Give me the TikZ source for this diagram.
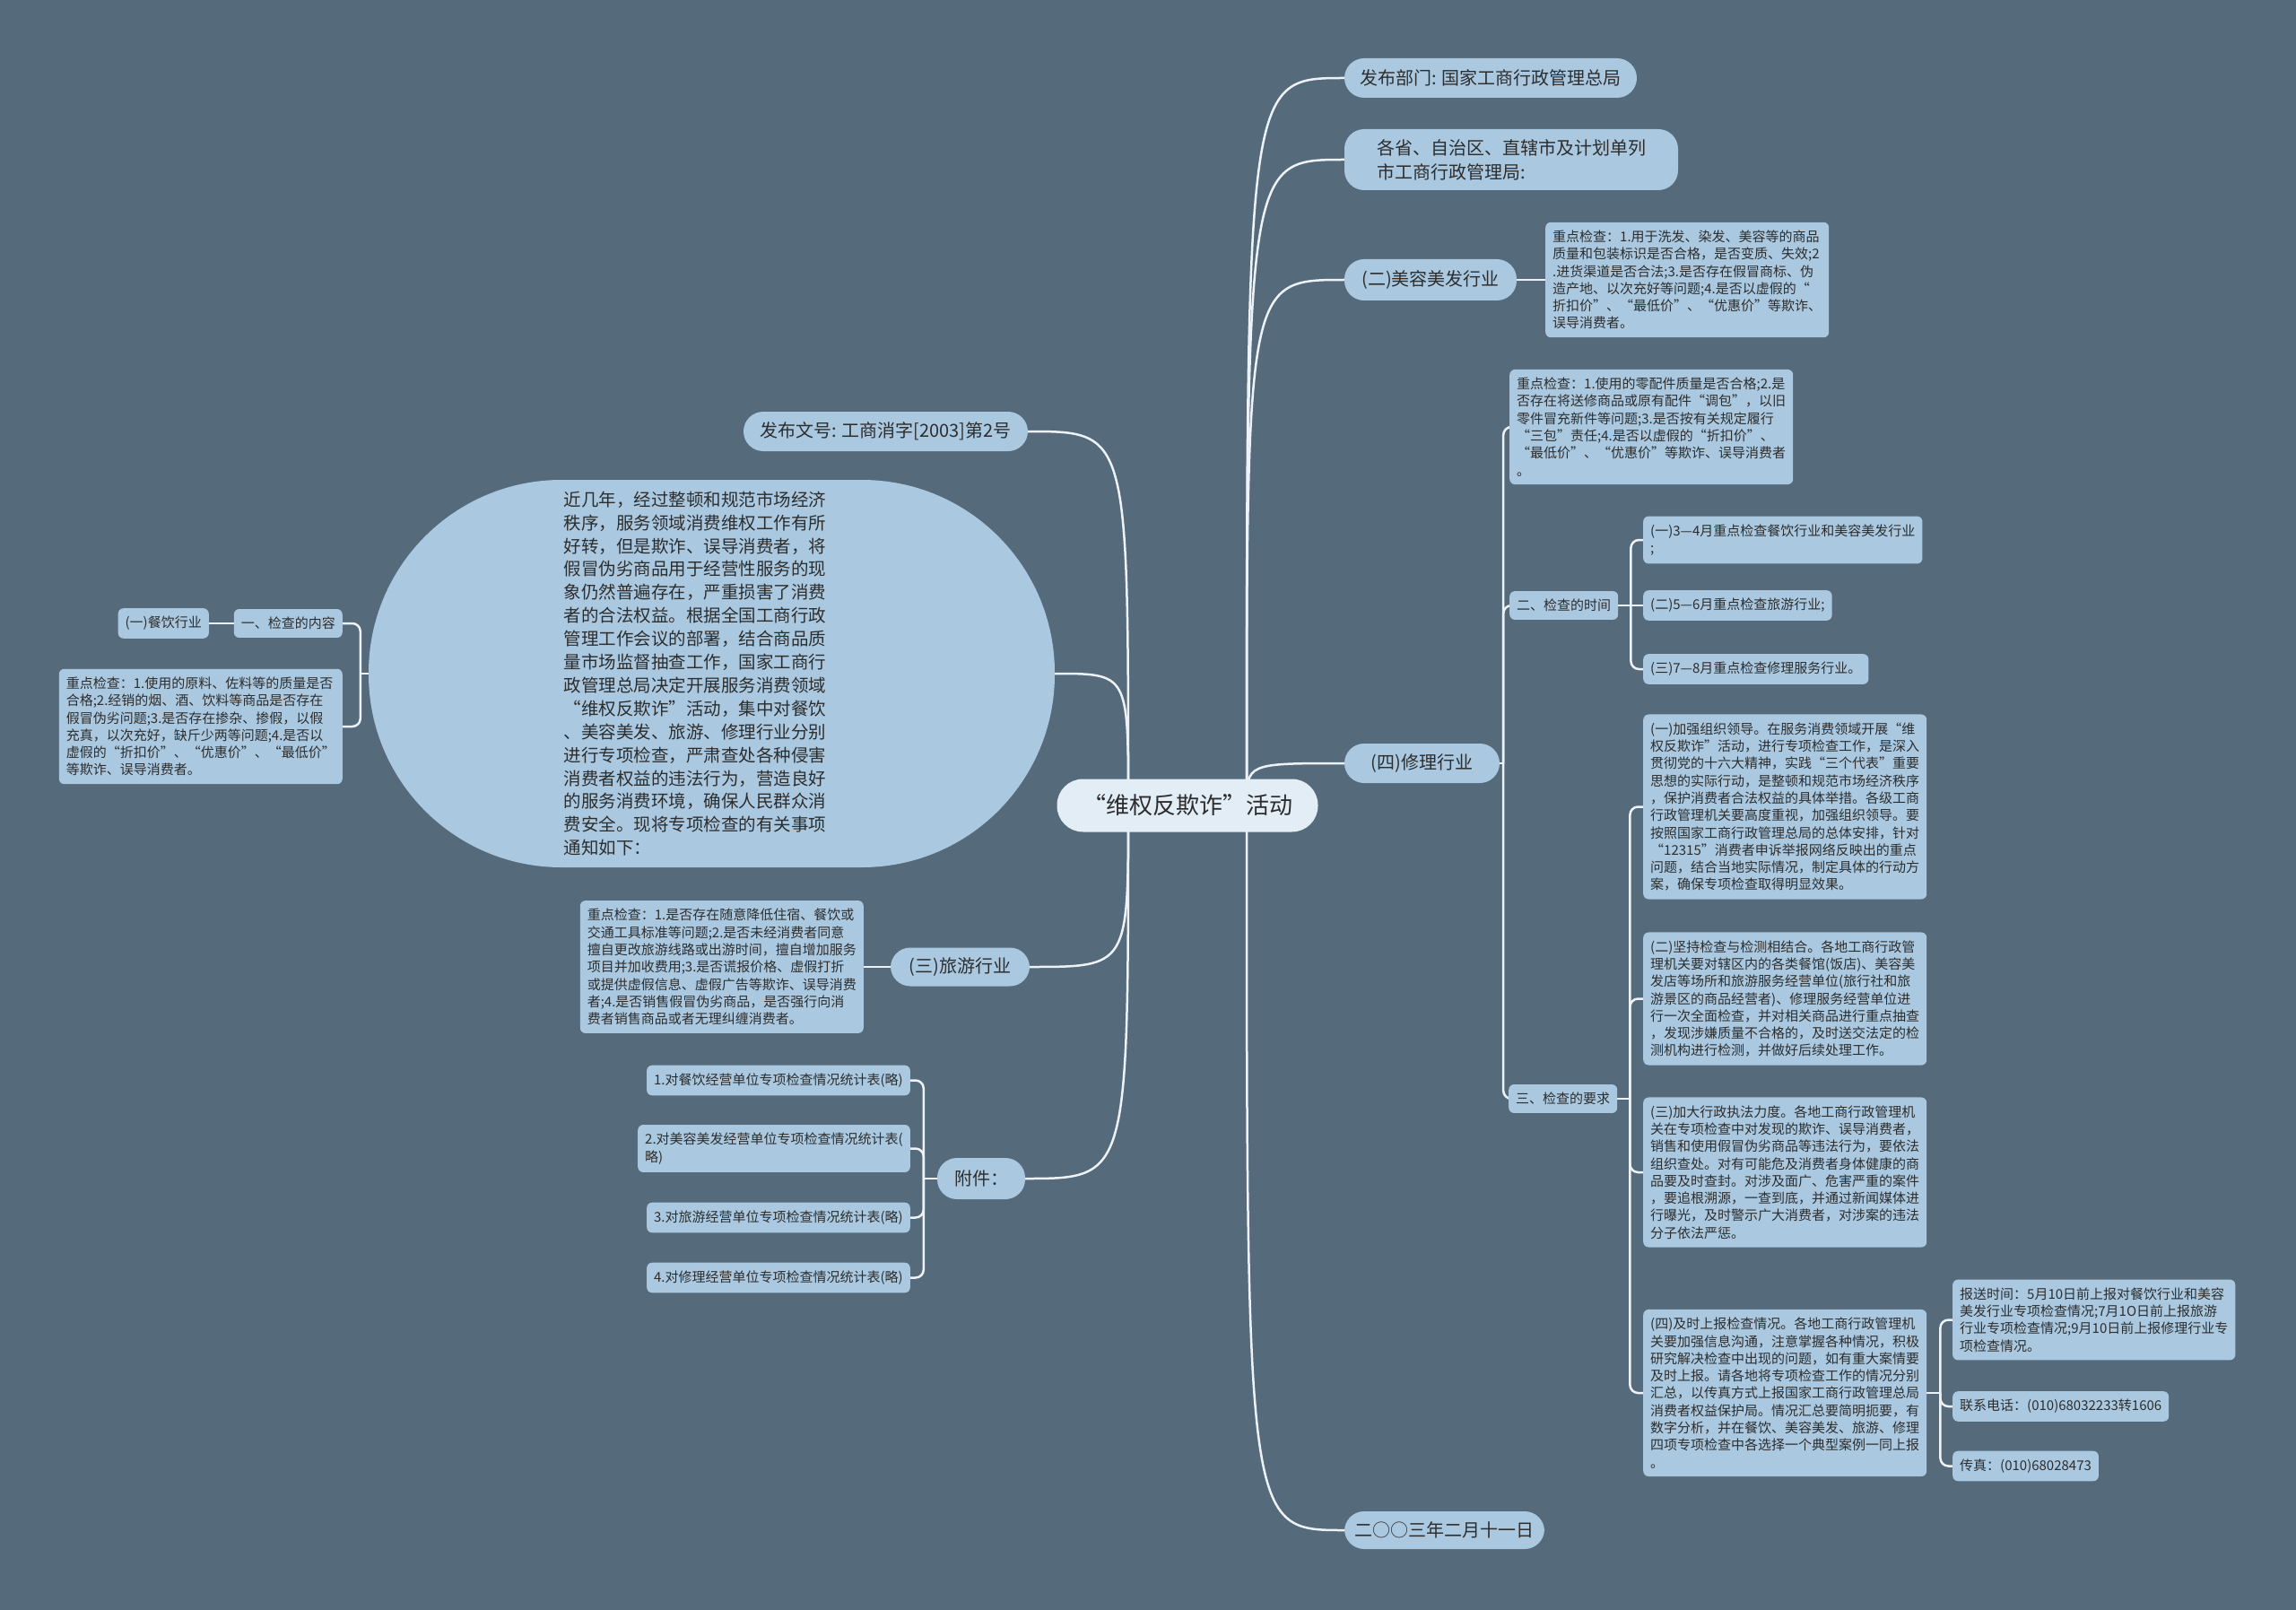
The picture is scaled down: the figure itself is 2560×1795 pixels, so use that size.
\documentclass[tikz,border=0pt]{standalone}
\usepackage{fontspec}
\setmainfont{Noto Sans CJK SC}

\definecolor{bgc}{RGB}{85,106,122}
\definecolor{boxc}{RGB}{170,201,224}
\definecolor{mainc}{RGB}{226,237,246}
\definecolor{linec}{RGB}{236,242,247}
\definecolor{txtc}{RGB}{45,45,45}

\pgfdeclarelayer{back}
\pgfsetlayers{back,main}

\tikzset{
  pill/.style={fill=boxc, text=txtc, rounded corners=22pt, inner sep=0pt,
    font=\fontsize{20}{27}\selectfont, align=center},
  leaf/.style={fill=boxc, text=txtc, rounded corners=6pt, inner xsep=8pt,
    inner ysep=9pt, font=\fontsize{15}{19.3}\selectfont, align=left},
  link/.style={draw=linec, line width=2.5pt,
    to path={.. controls (\tikztostart |- \tikztotarget) .. (\tikztotarget)}},
  fork/.style={draw=linec, line width=2.5pt, rounded corners=9pt},
}

\begin{document}
\begin{tikzpicture}[x=1pt,y=-1pt]

% centre topic
\node[pill, fill=mainc, minimum width=291, minimum height=59, rounded corners=29pt,
  font=\fontsize{26}{30}\selectfont] (main) at (1324,898) {“维权反欺诈”活动};

% right side
\node[pill, minimum width=326, minimum height=44] (bm) at (1662,87)
  {发布部门: 国家工商行政管理总局};
\node[pill, minimum width=372, minimum height=68, align=left] (gs) at (1685,178)
  {各省、自治区、直辖市及计划单列\\市工商行政管理局:};

\node[pill, minimum width=192, minimum height=46] (mr) at (1595,312) {(二)美容美发行业};
\node[leaf, anchor=west] (mrChk) at (1723,312)
  {重点检查：1.用于洗发、染发、美容等的商品\\
   质量和包装标识是否合格，是否变质、失效;2\\
   .进货渠道是否合法;3.是否存在假冒商标、伪\\
   造产地、以次充好等问题;4.是否以虚假的“\\
   折扣价”、“最低价”、“优惠价”等欺诈、\\
   误导消费者。};

\node[pill, minimum width=173, minimum height=44] (xl) at (1585.5,851) {(四)修理行业};
\node[leaf, anchor=west] (xlChk) at (1683,476)
  {重点检查：1.使用的零配件质量是否合格;2.是\\
   否存在将送修商品或原有配件“调包”，以旧\\
   零件冒充新件等问题;3.是否按有关规定履行\\
   “三包”责任;4.是否以虚假的“折扣价”、\\
   “最低价”、“优惠价”等欺诈、误导消费者\\
   。};

\node[leaf, anchor=west] (sj) at (1683,675) {二、检查的时间};
\node[leaf, anchor=west] (sj1) at (1832,602) {(一)3—4月重点检查餐饮行业和美容美发行业\\;};
\node[leaf, anchor=west] (sj2) at (1832,675) {(二)5—6月重点检查旅游行业;};
\node[leaf, anchor=west] (sj3) at (1832,746) {(三)7—8月重点检查修理服务行业。};

\node[leaf, anchor=west] (yq) at (1682,1225) {三、检查的要求};
\node[leaf, anchor=west] (yq1) at (1832,899.5)
  {(一)加强组织领导。在服务消费领域开展“维\\
   权反欺诈”活动，进行专项检查工作，是深入\\
   贯彻党的十六大精神，实践“三个代表”重要\\
   思想的实际行动，是整顿和规范市场经济秩序\\
   ，保护消费者合法权益的具体举措。各级工商\\
   行政管理机关要高度重视，加强组织领导。要\\
   按照国家工商行政管理总局的总体安排，针对\\
   “12315”消费者申诉举报网络反映出的重点\\
   问题，结合当地实际情况，制定具体的行动方\\
   案，确保专项检查取得明显效果。};
\node[leaf, anchor=west] (yq2) at (1832,1113.5)
  {(二)坚持检查与检测相结合。各地工商行政管\\
   理机关要对辖区内的各类餐馆(饭店)、美容美\\
   发店等场所和旅游服务经营单位(旅行社和旅\\
   游景区的商品经营者)、修理服务经营单位进\\
   行一次全面检查，并对相关商品进行重点抽查\\
   ，发现涉嫌质量不合格的，及时送交法定的检\\
   测机构进行检测，并做好后续处理工作。};
\node[leaf, anchor=west] (yq3) at (1832,1307)
  {(三)加大行政执法力度。各地工商行政管理机\\
   关在专项检查中对发现的欺诈、误导消费者，\\
   销售和使用假冒伪劣商品等违法行为，要依法\\
   组织查处。对有可能危及消费者身体健康的商\\
   品要及时查封。对涉及面广、危害严重的案件\\
   ，要追根溯源，一查到底，并通过新闻媒体进\\
   行曝光，及时警示广大消费者，对涉案的违法\\
   分子依法严惩。};
\node[leaf, anchor=west] (yq4) at (1832,1553)
  {(四)及时上报检查情况。各地工商行政管理机\\
   关要加强信息沟通，注意掌握各种情况，积极\\
   研究解决检查中出现的问题，如有重大案情要\\
   及时上报。请各地将专项检查工作的情况分别\\
   汇总，以传真方式上报国家工商行政管理总局\\
   消费者权益保护局。情况汇总要简明扼要，有\\
   数字分析，并在餐饮、美容美发、旅游、修理\\
   四项专项检查中各选择一个典型案例一同上报\\
   。};
\node[leaf, anchor=west] (bs) at (2177,1471.5)
  {报送时间：5月10日前上报对餐饮行业和美容\\
   美发行业专项检查情况;7月1O日前上报旅游\\
   行业专项检查情况;9月10日前上报修理行业专\\
   项检查情况。};
\node[leaf, anchor=west] (dh) at (2177,1568) {联系电话：(010)68032233转1606};
\node[leaf, anchor=west] (cz) at (2177,1634.5) {传真：(010)68028473};

\node[pill, minimum width=223, minimum height=42] (date) at (1610.5,1706) {二○○三年二月十一日};

% left side
\node[pill, minimum width=317, minimum height=44] (wh) at (987.5,481)
  {发布文号: 工商消字[2003]第2号};
\node[pill, minimum width=765, minimum height=432, rounded corners=215pt, align=left,
  text width=330, font=\fontsize{19.5}{25.9}\selectfont] (intro) at (793.5,751)
  {近几年，经过整顿和规范市场经济\\
   秩序，服务领域消费维权工作有所\\
   好转，但是欺诈、误导消费者，将\\
   假冒伪劣商品用于经营性服务的现\\
   象仍然普遍存在，严重损害了消费\\
   者的合法权益。根据全国工商行政\\
   管理工作会议的部署，结合商品质\\
   量市场监督抽查工作，国家工商行\\
   政管理总局决定开展服务消费领域\\
   “维权反欺诈”活动，集中对餐饮\\
   、美容美发、旅游、修理行业分别\\
   进行专项检查，严肃查处各种侵害\\
   消费者权益的违法行为，营造良好\\
   的服务消费环境，确保人民群众消\\
   费安全。现将专项检查的有关事项\\
   通知如下：};
\node[leaf, anchor=east] (nr) at (382,695) {一、检查的内容};
\node[leaf, anchor=east] (cy) at (233,695) {(一)餐饮行业};
\node[leaf, anchor=east] (cyChk) at (382,810)
  {重点检查：1.使用的原料、佐料等的质量是否\\
   合格;2.经销的烟、酒、饮料等商品是否存在\\
   假冒伪劣问题;3.是否存在掺杂、掺假，以假\\
   充真，以次充好，缺斤少两等问题;4.是否以\\
   虚假的“折扣价”、“优惠价”、“最低价”\\
   等欺诈、误导消费者。};

\node[pill, minimum width=155, minimum height=43] (ly) at (1070.5,1078) {(三)旅游行业};
\node[leaf, anchor=east] (lyChk) at (963,1078)
  {重点检查：1.是否存在随意降低住宿、餐饮或\\
   交通工具标准等问题;2.是否未经消费者同意\\
   擅自更改旅游线路或出游时间，擅自增加服务\\
   项目并加收费用;3.是否谎报价格、虚假打折\\
   或提供虚假信息、虚假广告等欺诈、误导消费\\
   者;4.是否销售假冒伪劣商品，是否强行向消\\
   费者销售商品或者无理纠缠消费者。};

\node[pill, minimum width=98, minimum height=46] (fj) at (1094,1314) {附件：};
\node[leaf, anchor=east] (fj1) at (1015,1204.5) {1.对餐饮经营单位专项检查情况统计表(略)};
\node[leaf, anchor=east] (fj2) at (1015,1280.5) {2.对美容美发经营单位专项检查情况统计表(\\略)};
\node[leaf, anchor=east] (fj3) at (1015,1357.5) {3.对旅游经营单位专项检查情况统计表(略)};
\node[leaf, anchor=east] (fj4) at (1015,1424.5) {4.对修理经营单位专项检查情况统计表(略)};

% connectors, under the nodes
\begin{pgfonlayer}{back}
\fill[bgc] (0,0) rectangle (2560,1795);
\coordinate (cR) at (1390,898);
\coordinate (cL) at (1258,898);
\foreach \n in {bm,gs,mr,xl,date} \draw[link] (cR) to (\n.west);
\foreach \n in {wh,intro,ly,fj} \draw[link] (cL) to (\n.east);

\draw[fork] (mr.east) -- (mrChk.west);
\draw[fork] (xl.east) -- ++(4,0);
\foreach \n in {xlChk,sj,yq} \draw[fork] (xl.east) ++(4,0) |- (\n.west);
\draw[fork] (sj.east) -- (sj2.west);
\foreach \n in {sj1,sj3} \draw[fork] (sj.east) ++(14,0) |- (\n.west);
\draw[fork] (yq.east) -- ++(14,0);
\foreach \n in {yq1,yq2,yq3,yq4} \draw[fork] (yq.east) ++(14,0) |- (\n.west);
\draw[fork] (yq4.east) -- ++(15,0);
\foreach \n in {bs,dh,cz} \draw[fork] (yq4.east) ++(15,0) |- (\n.west);

\draw[fork] (intro.west) -- ++(-9,0);
\foreach \n in {nr,cyChk} \draw[fork] (intro.west) ++(-9,0) |- (\n.east);
\draw[fork] (nr.west) -- (cy.east);
\draw[fork] (ly.west) -- (lyChk.east);
\draw[fork] (fj.west) -- ++(-15,0);
\foreach \n in {fj1,fj2,fj3,fj4} \draw[fork] (fj.west) ++(-15,0) |- (\n.east);
\end{pgfonlayer}

\end{tikzpicture}
\end{document}
